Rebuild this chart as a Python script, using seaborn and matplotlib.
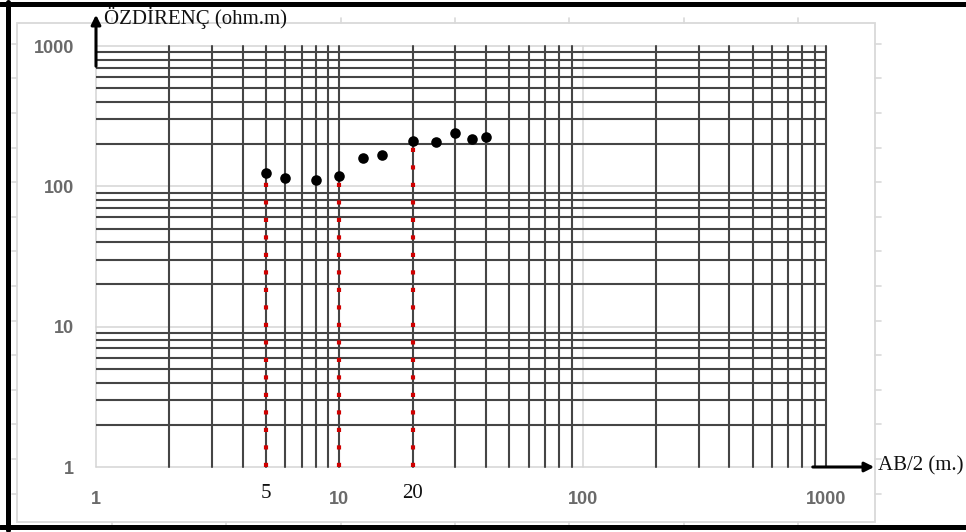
import matplotlib
matplotlib.use("Agg")
import matplotlib.pyplot as plt
from matplotlib.lines import Line2D
from matplotlib.patches import FancyArrowPatch, Rectangle
from matplotlib.ticker import FixedLocator, NullLocator, FixedFormatter
import seaborn as sns
import pandas as pd

# Sounding data: half electrode spacing AB/2 (m) and apparent resistivity (ohm.m)
ab2 = [5, 6, 8, 10, 12.5, 15, 20, 25, 30, 35, 40]
rho = [124, 114, 111, 119, 159, 167, 212, 206, 241, 217, 224]

# Spacings marked with a dropped red line and their labels
marked_ab2 = [5, 10, 20]
marked_labels = ["5", "", "20"]

# Axis tick values and labels
decade_ticks = [1, 10, 100, 1000]
decade_labels = ["1", "10", "100", "1000"]

# Log-paper grid: dark lines at 2..9 of each decade, light lines at decades
x_dark = [m * d for d in (1, 10, 100) for m in range(2, 10)] + [10, 1000]
x_light = [1, 100]
y_dark = [m * d for d in (1, 10, 100) for m in range(2, 10)]
y_light = [1, 10, 100, 1000]

W, H = 966, 532
sns.set_theme(style="white")
plt.rcParams["font.family"] = ["DejaVu Sans"]

fig = plt.figure(figsize=(W / 100, H / 100), dpi=100)
fig.patch.set_facecolor("white")

def fx(px):
    return px / W

def fy(py):
    return 1 - py / H

# Outer light-grey chart frame with its small ticks
frame_col = "#d9d9d9"
fig.add_artist(Rectangle((fx(17), fy(522)), fx(875) - fx(17), fy(23) - fy(522),
                         transform=fig.transFigure, fill=False,
                         edgecolor=frame_col, lw=1.3))
for k in range(14):
    yy = 43.8 + 34.6 * k
    fig.add_artist(Line2D([fx(12), fx(17)], [fy(yy), fy(yy)],
                          transform=fig.transFigure, color=frame_col, lw=1.2))
    fig.add_artist(Line2D([fx(875), fx(881)], [fy(yy), fy(yy)],
                          transform=fig.transFigure, color=frame_col, lw=1.2))
for k in range(7):
    xx = 112 + 114.3 * k
    fig.add_artist(Line2D([fx(xx), fx(xx)], [fy(522), fy(527)],
                          transform=fig.transFigure, color=frame_col, lw=1.2))
    fig.add_artist(Line2D([fx(xx), fx(xx)], [fy(18), fy(23)],
                          transform=fig.transFigure, color=frame_col, lw=1.2))

# Plot area (log-log, 1..1000 on both axes)
ax = fig.add_axes([fx(96), fy(467), fx(826) - fx(96), fy(46) - fy(467)])
ax.set_facecolor("none")
ax.set_xscale("log")
ax.set_yscale("log")
ax.set_xlim(1, 1000)
ax.set_ylim(1, 1000)
for s in ax.spines.values():
    s.set_visible(False)

light_col = "#d4d4d4"
dark_col = "#454545"
for v in y_light:
    ax.axhline(v, color=light_col, lw=1.1, zorder=1, clip_on=False)
for v in x_light:
    ax.axvline(v, color=light_col, lw=1.1, zorder=1, clip_on=False)
for v in y_dark:
    ax.axhline(v, color=dark_col, lw=1.5, zorder=2)
for v in x_dark:
    ax.axvline(v, color=dark_col, lw=1.5, zorder=2, clip_on=False)

# Red dotted drop lines from the marked readings to the axis
data = pd.DataFrame({"ab2": ab2, "rho": rho})
marked_rho = [data.loc[data["ab2"] == m, "rho"].iloc[0] for m in marked_ab2]
ax.vlines(marked_ab2, 1, marked_rho, colors="#d00000",
          linestyles=(0, (1, 3.2)), lw=3.0, zorder=3)

sns.scatterplot(data=data, x="ab2", y="rho", color="black", s=58,
                edgecolor="black", linewidth=0, ax=ax, zorder=5, legend=False)
ax.set_xlabel("")
ax.set_ylabel("")

# Decade tick labels
ax.xaxis.set_major_locator(FixedLocator(decade_ticks))
ax.xaxis.set_major_formatter(FixedFormatter(decade_labels))
ax.yaxis.set_major_locator(FixedLocator(decade_ticks))
ax.yaxis.set_major_formatter(FixedFormatter(decade_labels))
ax.xaxis.set_minor_locator(NullLocator())
ax.yaxis.set_minor_locator(NullLocator())
ax.tick_params(axis="both", length=0, labelsize=13, labelcolor="#6a6a6a")
ax.tick_params(axis="x", pad=17)
ax.tick_params(axis="y", pad=16)
for lab in ax.get_xticklabels() + ax.get_yticklabels():
    lab.set_fontfamily("Liberation Sans")
    lab.set_fontweight("bold")

# Serif labels under the marked spacings
serif = ["Liberation Serif", "DejaVu Serif"]
xform = ax.get_xaxis_transform()
for m, t in zip(marked_ab2, marked_labels):
    if t:
        ax.text(m, -27 / 421, t, transform=xform, ha="center", va="center",
                fontsize=15, family=serif, color="#111111")

# Axis arrows and titles
fig.add_artist(FancyArrowPatch((fx(96), fy(69)), (fx(96), fy(12)),
                               transform=fig.transFigure, arrowstyle="-|>",
                               mutation_scale=14, lw=2.2, color="black"))
fig.add_artist(FancyArrowPatch((fx(810), fy(467)), (fx(877), fy(467)),
                               transform=fig.transFigure, arrowstyle="-|>",
                               mutation_scale=14, lw=2.2, color="black"))
fig.text(fx(104), fy(17.5), "ÖZDİRENÇ (ohm.m)", ha="left", va="center",
         fontsize=15, family=serif, color="#111111")
fig.text(fx(878), fy(466), "AB/2 (m.)", ha="left", va="center",
         fontsize=15, family=serif, color="#111111")

# Black border around the sheet
fig.add_artist(Line2D([fx(7.5), fx(7.5)], [fy(2), fy(530)],
                      transform=fig.transFigure, color="black", lw=3.6))
fig.add_artist(Line2D([fx(0), fx(W)], [fy(3.5), fy(3.5)],
                      transform=fig.transFigure, color="black", lw=3.6))
fig.add_artist(Line2D([fx(0), fx(W)], [fy(527), fy(527)],
                      transform=fig.transFigure, color="black", lw=3.6))

fig.savefig("out.png", dpi=100, facecolor="white")
